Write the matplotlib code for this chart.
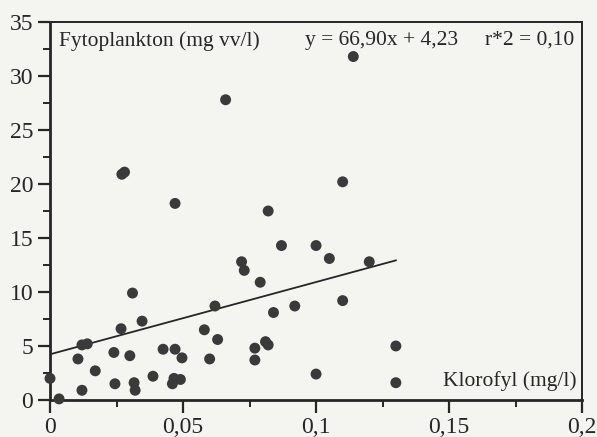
import matplotlib
matplotlib.use("Agg")
from matplotlib import pyplot as plt
from matplotlib.ticker import MultipleLocator, FuncFormatter
import numpy as np

# Klorofyl (mg/l) vs Fytoplankton (mg vv/l)
klorofyl = [0.000, 0.0034, 0.0105, 0.012, 0.012, 0.014, 0.017, 0.024, 0.0244,
            0.0267, 0.027, 0.028, 0.030, 0.031, 0.0316, 0.032, 0.0346, 0.0387,
            0.0425, 0.046, 0.0466, 0.047, 0.047, 0.049, 0.0496, 0.058, 0.060,
            0.062, 0.063, 0.066, 0.072, 0.073, 0.077, 0.077, 0.079, 0.081,
            0.082, 0.082, 0.084, 0.087, 0.092, 0.100, 0.100, 0.105, 0.110,
            0.110, 0.114, 0.120, 0.130, 0.130]
fytoplankton = [2.0, 0.1, 3.8, 0.9, 5.1, 5.2, 2.7, 4.4, 1.5,
                6.6, 20.9, 21.1, 4.1, 9.9, 1.6, 0.9, 7.3, 2.2,
                4.7, 1.5, 2.0, 4.7, 18.2, 1.9, 3.9, 6.5, 3.8,
                8.7, 5.6, 27.8, 12.8, 12.0, 3.7, 4.8, 10.9, 5.4,
                5.1, 17.5, 8.1, 14.3, 8.7, 14.3, 2.4, 13.1, 9.2,
                20.2, 31.8, 12.8, 5.0, 1.6]

slope, intercept = 66.90, 4.23
fit_x = np.array([0.0, 0.13])

paper = "#f4f4f1"
ink = "#262626"
plt.rcParams['font.family'] = ['Liberation Serif', 'DejaVu Serif']

fig = plt.figure(figsize=(5.97, 4.37), dpi=100, facecolor=paper)
ax = fig.add_axes([0.0838, 0.0847, 0.8912, 0.865])
ax.set_facecolor(paper)

ax.scatter(klorofyl, fytoplankton, s=62, color="#3a3a3a", edgecolors="none",
           zorder=3, clip_on=False)
ax.plot(fit_x, slope * fit_x + intercept, color=ink, lw=1.3)

ax.set_xlim(0, 0.2)
ax.set_ylim(0, 35)
ax.xaxis.set_major_locator(MultipleLocator(0.05))
ax.xaxis.set_minor_locator(MultipleLocator(0.025))
ax.yaxis.set_major_locator(MultipleLocator(5))
ax.yaxis.set_minor_locator(MultipleLocator(2.5))


def komma(v, pos):
    s = ("%.2f" % v).rstrip("0").rstrip(".")
    return s.replace(".", ",")


ax.xaxis.set_major_formatter(FuncFormatter(komma))
ax.tick_params(which="major", direction="out", length=9, width=1.6,
               color=ink, labelsize=17, labelcolor=ink, pad=3)
ax.tick_params(which="minor", direction="out", length=5, width=1.4, color=ink)

for side in ["left", "bottom"]:
    ax.spines[side].set_linewidth(2.0)
    ax.spines[side].set_color(ink)
for side in ["top", "right"]:
    ax.spines[side].set_linewidth(1.4)
    ax.spines[side].set_color(ink)

ax.text(0.017, 0.975, "Fytoplankton (mg vv/l)", transform=ax.transAxes,
        ha="left", va="top", fontsize=15.5, color=ink)
ax.text(0.985, 0.975, "y = 66,90x + 4,23     r*2 = 0,10", transform=ax.transAxes,
        ha="right", va="top", fontsize=15.5, color=ink)
ax.text(0.99, 0.025, "Klorofyl (mg/l)", transform=ax.transAxes,
        ha="right", va="bottom", fontsize=15.5, color=ink)

fig.savefig("out.png", dpi=100, facecolor=paper)
